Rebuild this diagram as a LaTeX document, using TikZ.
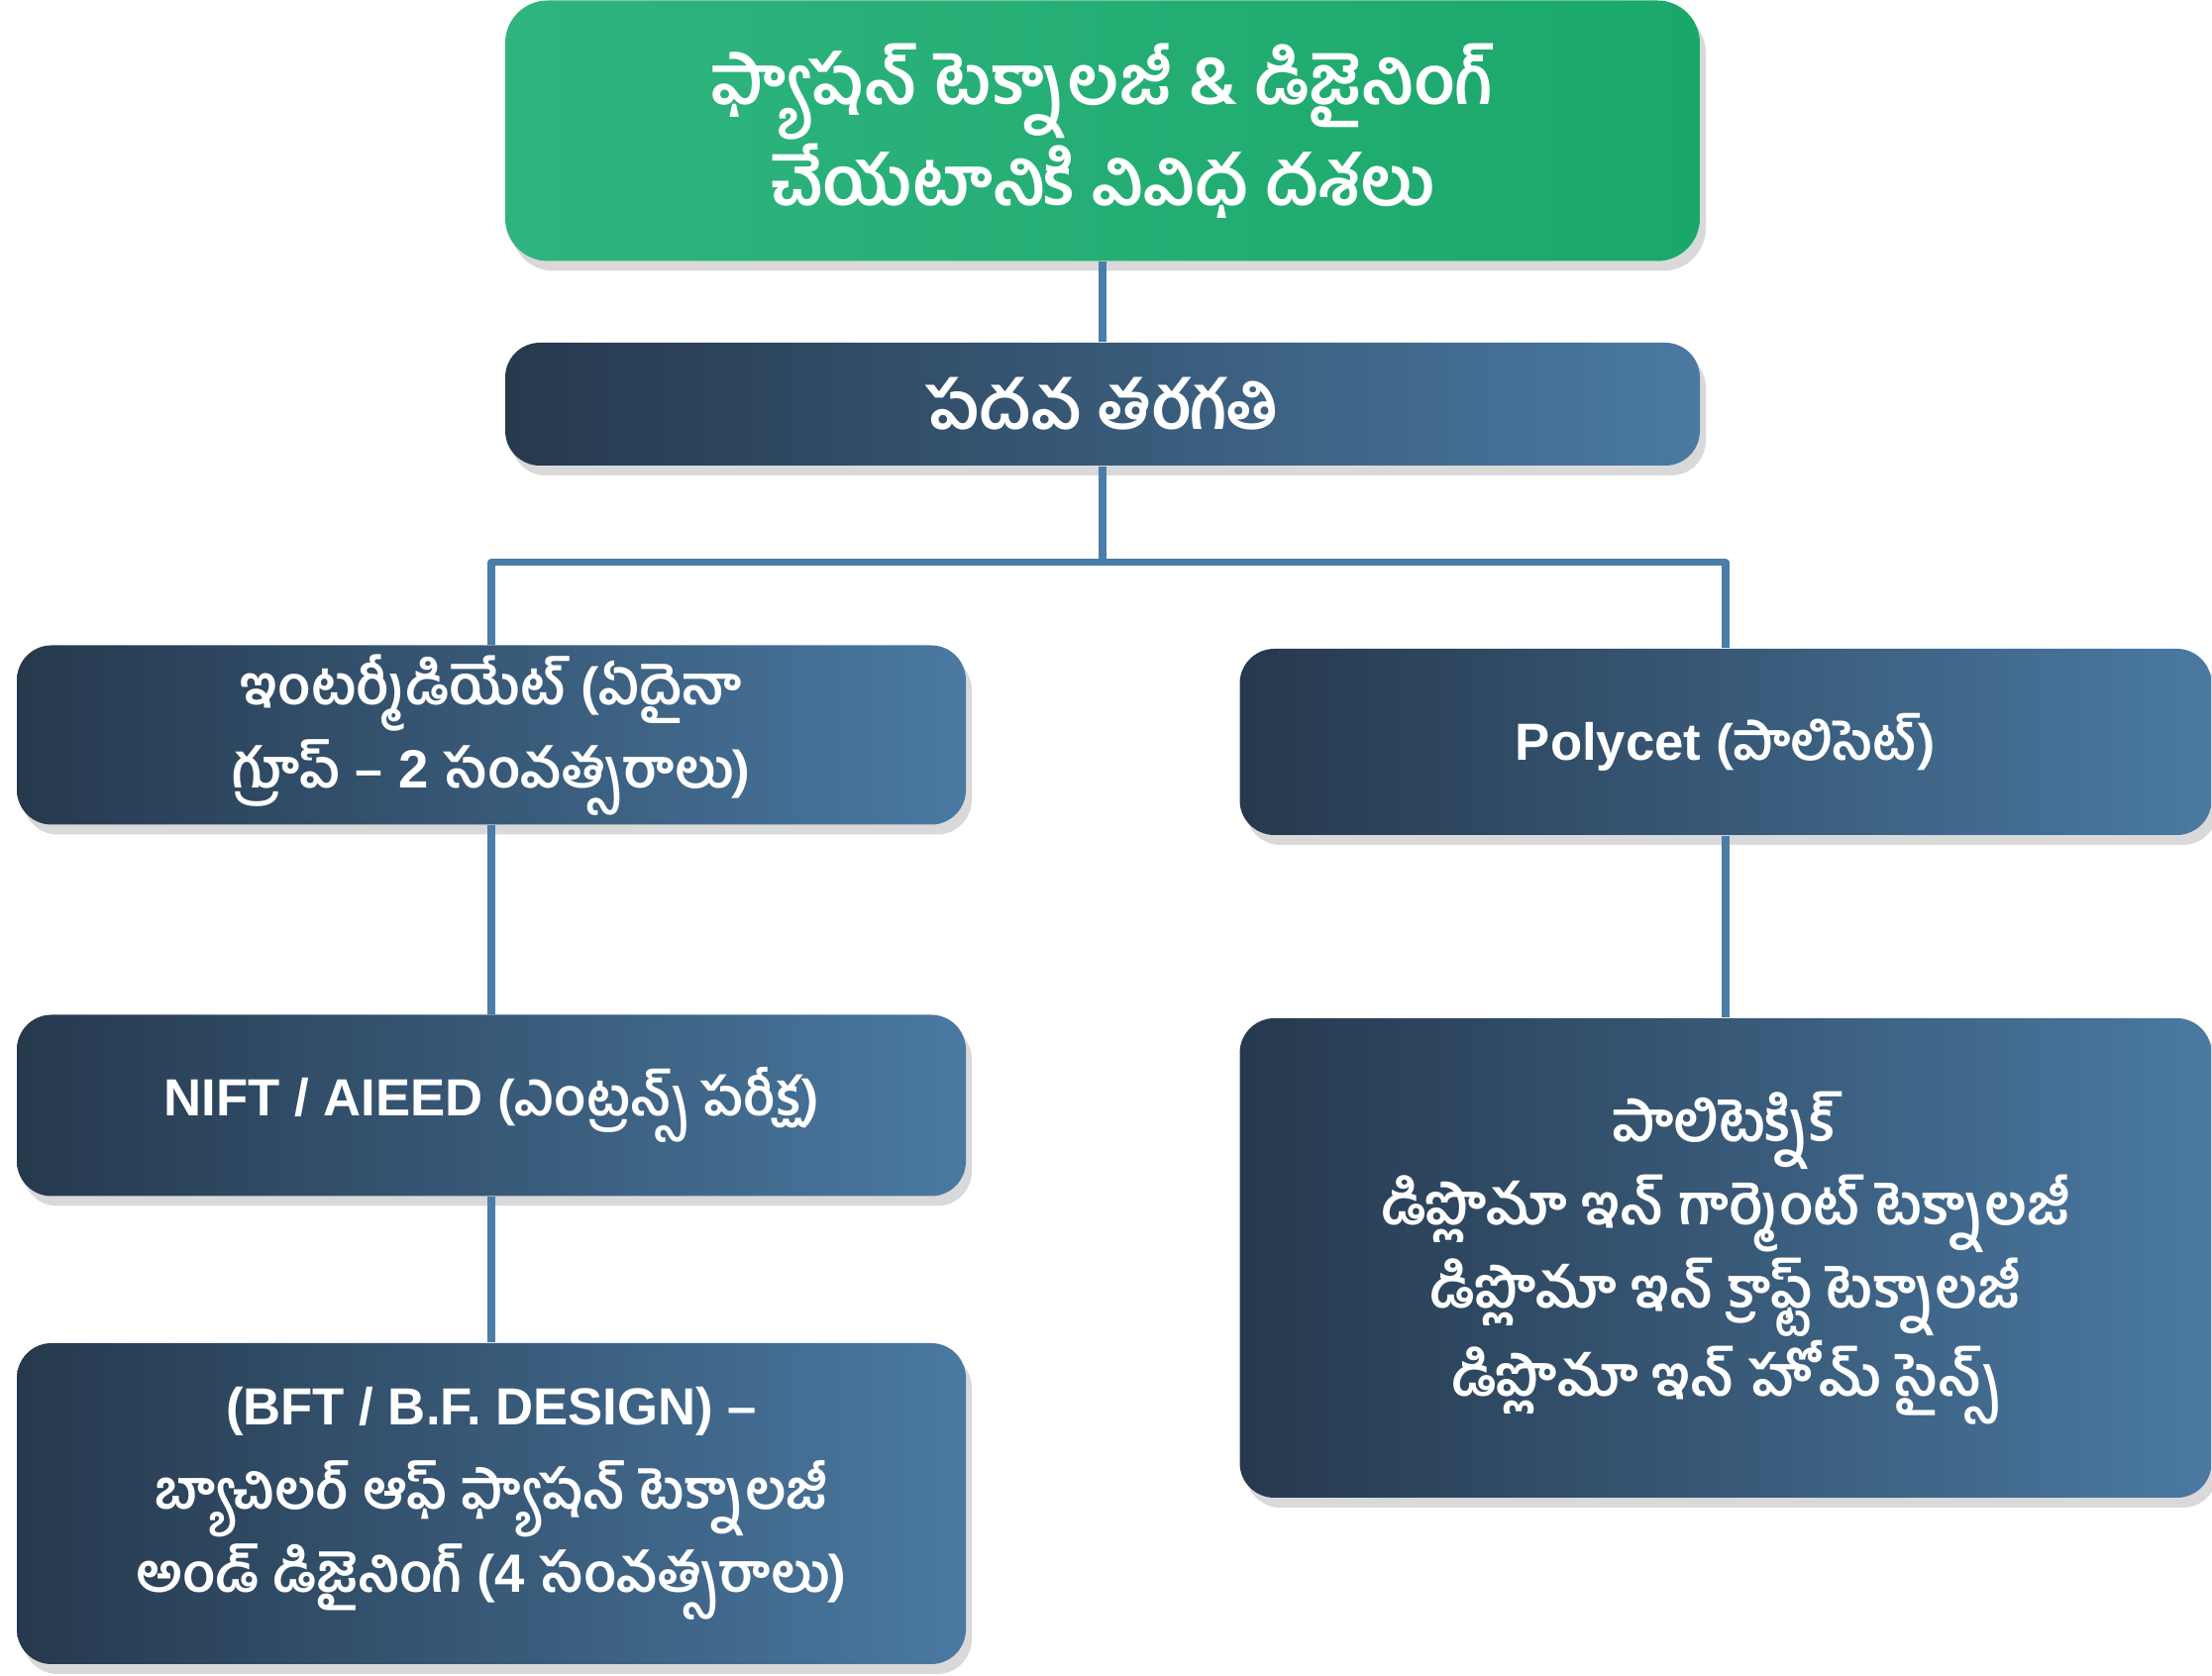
\documentclass[tikz,border=0pt]{standalone}
\usepackage{fontspec}
\setmainfont{Liberation Sans}
\newfontfamily\tefont[Script=Telugu]{Hind Guntur}
\usepackage{xcolor}
\usetikzlibrary{shadows}

\definecolor{boxdark}{HTML}{26394D}
\definecolor{boxlight}{HTML}{4A79A2}
\definecolor{greenlight}{HTML}{30B47F}
\definecolor{greendark}{HTML}{1AA86A}
\definecolor{linkblue}{HTML}{4A7DA8}
\newcommand{\te}[1]{{\tefont #1}}

\begin{document}
\begin{tikzpicture}[line width=0.5pt,line cap=round,line join=round,
  box/.style={rounded corners=0.35cm,left color=boxdark,right color=boxlight,
    text=white,font=\bfseries\fontsize{15.5}{24}\selectfont,align=center,inner sep=0pt,
    drop shadow={shadow xshift=0.06cm,shadow yshift=-0.1cm,opacity=0.3}},
  greenbox/.style={box,left color=greenlight,right color=greendark,rounded corners=0.43cm},
  link/.style={draw=linkblue,line width=2pt,line cap=butt}]
\useasboundingbox (0,0) rectangle (22.33,16.92);

\node[greenbox,minimum width=12.06cm,minimum height=2.63cm,
  font=\bfseries\fontsize{19.5}{27}\selectfont] (title) at (11.13,15.6)
  {\te{ఫ్యాషన్ టెక్నాలజీ \& డిజైనింగ్}\\ \te{చేయటానికి వివిధ దశలు}};
\node[box,minimum width=12.06cm,minimum height=1.24cm,
  font=\bfseries\fontsize{19}{23}\selectfont] (class10) at (11.13,12.84)
  {\te{పదవ తరగతి}};

%%%%%%%%%%%%%%%% LEFT %%%%%%%%%%%%%%%%%%%
\node[box,minimum width=9.58cm,minimum height=1.81cm] (inter) at (4.96,9.5)
  {\te{ఇంటర్మీడియేట్ (ఏదైనా}\\ \te{గ్రూప్ –} 2 \te{సంవత్సరాలు)}};
\node[box,minimum width=9.58cm,minimum height=1.83cm] (nift) at (4.96,5.76)
  {\fontsize{15}{23}\selectfont NIFT / AIEED \te{(ఎంట్రన్స్ పరీక్ష)}};
\node[box,minimum width=9.58cm,minimum height=3.24cm] (bft) at (4.96,1.74)
  {{\fontsize{15}{23}\selectfont (BFT / B.F. DESIGN) –}\\
   \te{బ్యాచిలర్ ఆఫ్ ఫ్యాషన్ టెక్నాలజీ}\\
   \te{అండ్ డిజైనింగ్ (}4 \te{సంవత్సరాలు)}};

%%%%%%%%%%%%%%%% RIGHT %%%%%%%%%%%%%%%%%%%
\node[box,minimum width=9.81cm,minimum height=1.88cm] (poly) at (17.42,9.43)
  {\fontsize{15}{23}\selectfont Polycet \te{(పాలిసెట్)}};
\node[box,minimum width=9.81cm,minimum height=4.84cm,
  font=\bfseries\fontsize{16}{24}\selectfont] (ptech) at (17.42,4.22)
  {\te{పాలిటెక్నిక్}\\ \te{డిప్లొమా ఇన్ గార్మెంట్ టెక్నాలజీ}\\
   \te{డిప్లొమా ఇన్ క్రాఫ్ట్ టెక్నాలజీ}\\ \te{డిప్లొమా ఇన్ హోమ్ సైన్స్}};

\coordinate (split) at (11.13,11.24);
\draw[link] (title) -- (class10);
\draw[link] (class10) -- (split);
\draw[link] (inter.north) |- (split) -| (poly.north);
\draw[link] (inter) -- (nift);
\draw[link] (nift) -- (bft);
\draw[link] (poly) -- (ptech);

\end{tikzpicture}
\end{document}
